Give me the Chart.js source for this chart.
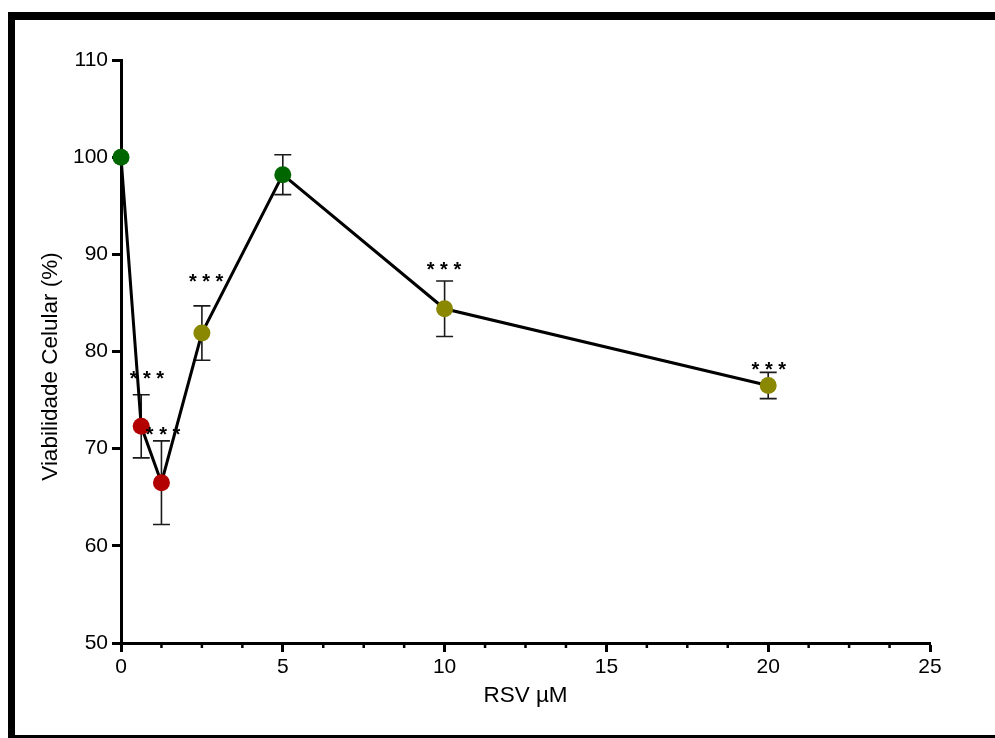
<!DOCTYPE html>
<html>
<head>
<meta charset="utf-8">
<script src="https://cdn.jsdelivr.net/npm/chart.js@4.4.1/dist/chart.umd.min.js"></script>
<style>
  html, body { margin: 0; padding: 0; background: #fff; overflow: hidden; }
  #frame {
    position: absolute; left: 8px; top: 12px; width: 1000px; height: 731px;
    box-sizing: border-box; border: 8px solid #000; border-left-width: 7px; border-right: none;
  }
  #wrap { position: absolute; left: 0; top: 0; width: 995px; height: 738px; }
</style>
</head>
<body>
<div id="frame"></div>
<div id="wrap"><canvas id="c" width="995" height="738"></canvas></div>
<script>
// data
const doses = [0, 0.625, 1.25, 2.5, 5, 10, 20];
const viability = [100, 72.3, 66.5, 81.9, 98.2, 84.4, 76.5];
const sem = [0, 3.25, 4.3, 2.8, 2.05, 2.85, 1.35];
const signif = ["", "***", "***", "***", "", "***", "***"];
// where the stars sit (data units)
const starX = [0, 0.80, 1.30, 2.63, 5, 9.98, 20.02];
const starY = [0, 77.6, 71.9, 87.6, 0, 88.9, 78.6];

const xTicks = [0, 5, 10, 15, 20, 25];
const xMinor = [1.25, 2.5, 3.75, 6.25, 7.5, 8.75, 11.25, 12.5, 13.75, 16.25, 17.5, 18.75, 21.25, 22.5, 23.75];
const yTicks = [50, 60, 70, 80, 90, 100, 110];

const pointColors = ["#006600", "#b30000", "#b30000", "#8a8800", "#006600", "#8a8800", "#8a8800"];

const FONT = "Arial, 'Liberation Sans', sans-serif";

const extras = {
  id: "extras",
  beforeDatasetsDraw(chart) {
    const { ctx, scales: { x, y } } = chart;
    ctx.save();
    ctx.strokeStyle = "#1a1a1a";
    ctx.lineWidth = 1.6;
    doses.forEach((d, i) => {
      if (!sem[i]) return;
      const px = x.getPixelForValue(d);
      const top = y.getPixelForValue(viability[i] + sem[i]);
      const bot = y.getPixelForValue(viability[i] - sem[i]);
      ctx.beginPath();
      ctx.moveTo(px, top); ctx.lineTo(px, bot);
      ctx.moveTo(px - 8.5, top); ctx.lineTo(px + 8.5, top);
      ctx.moveTo(px - 8.5, bot); ctx.lineTo(px + 8.5, bot);
      ctx.stroke();
    });
    ctx.restore();
  },
  afterDraw(chart) {
    const { ctx, scales: { x, y } } = chart;
    ctx.save();
    // minor ticks on x axis
    ctx.strokeStyle = "#000";
    ctx.lineWidth = 2.5;
    xMinor.forEach(v => {
      const px = x.getPixelForValue(v);
      ctx.beginPath();
      ctx.moveTo(px, y.bottom); ctx.lineTo(px, y.bottom + 5);
      ctx.stroke();
    });
    // significance stars
    ctx.fillStyle = "#000";
    ctx.font = "bold 20px " + FONT;
    ctx.textAlign = "center";
    ctx.textBaseline = "middle";
    signif.forEach((s, i) => {
      if (!s) return;
      ctx.fillText(s.split("").join(" "), x.getPixelForValue(starX[i]), y.getPixelForValue(starY[i]) + 5);
    });
    // y axis title, sits a little below the middle of the axis
    ctx.font = "22.5px " + FONT;
    ctx.translate(51, (y.top + y.bottom) / 2 + 15);
    ctx.rotate(-Math.PI / 2);
    ctx.fillText("Viabilidade Celular (%)", 0, 0);
    ctx.restore();
  }
};

new Chart(document.getElementById("c"), {
  type: "line",
  data: {
    datasets: [{
      data: doses.map((d, i) => ({ x: d, y: viability[i] })),
      borderColor: "#000",
      borderWidth: 3,
      pointRadius: 8.5,
      pointHoverRadius: 8.5,
      pointBorderWidth: 0,
      pointBackgroundColor: pointColors,
      pointBorderColor: pointColors,
      tension: 0,
      clip: false
    }]
  },
  options: {
    responsive: false,
    animation: false,
    events: [],
    layout: { padding: { left: 28, top: 60, right: 65, bottom: 25 } },
    plugins: { legend: { display: false }, tooltip: { enabled: false } },
    scales: {
      x: {
        type: "linear",
        min: 0, max: 25,
        afterFit: s => { s.height = 70; },
        afterBuildTicks: s => { s.ticks = xTicks.map(v => ({ value: v })); },
        ticks: { color: "#000", font: { family: FONT, size: 21 }, padding: 3, maxRotation: 0 },
        grid: { drawOnChartArea: false, tickLength: 9, tickWidth: 3, tickColor: "#000" },
        border: { color: "#000", width: 3 },
        title: { display: true, text: "RSV \u00b5M", color: "#000", font: { family: FONT, size: 22.5 }, padding: { bottom: 4 } }
      },
      y: {
        min: 50, max: 110,
        afterFit: s => { s.width = 93; },
        afterBuildTicks: s => { s.ticks = yTicks.map(v => ({ value: v })); },
        ticks: { color: "#000", font: { family: FONT, size: 21 }, padding: 4 },
        grid: { drawOnChartArea: false, tickLength: 9, tickWidth: 3, tickColor: "#000" },
        border: { color: "#000", width: 3 }
      }
    }
  },
  plugins: [extras]
});
</script>
</body>
</html>
